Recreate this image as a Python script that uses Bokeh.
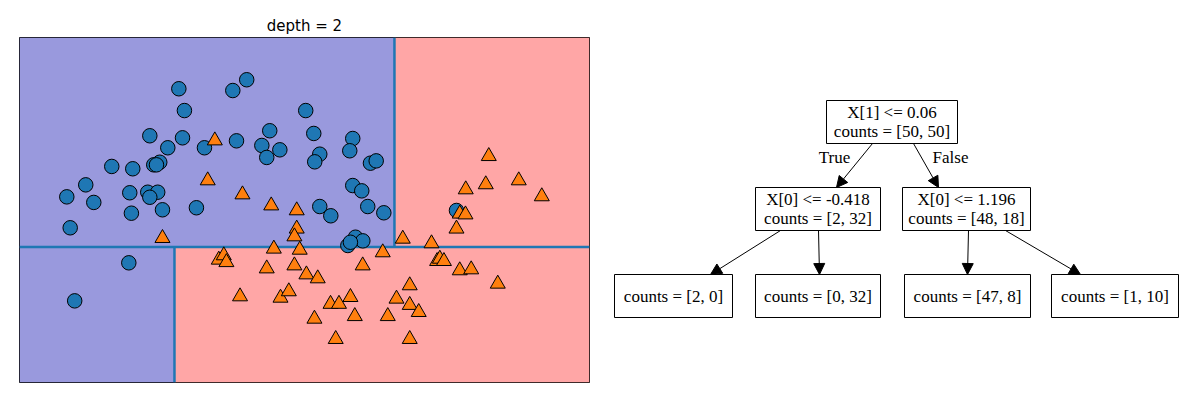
from bokeh.plotting import figure
from bokeh.layouts import row
from bokeh.models import Range1d, Arrow, NormalHead, Title, ColumnDataSource
from bokeh.core.properties import value
from bokeh.embed import file_html
from bokeh.resources import INLINE

# ---- data: two classes of points (feature 0, feature 1) ----
class0_x = [-0.386, 0.010, 0.112, -0.345, 0.545, -0.599, -0.359, -0.467, -0.198, 0.037,
            0.281, 0.223, 0.355, 0.259, 0.604, -0.878, -0.724, -0.570, -0.526, -0.550,
            -1.208, -1.069, -1.010, -0.746, -0.614, -0.541, -0.599, -0.734, -0.506, -0.257,
            -1.183, -0.753, -1.150, 0.890, 0.868, 0.648, 0.611, 1.020, 1.062, 0.890,
            0.956, 0.648, 0.729, 1.000, 1.118, 1.651, 0.910, 0.964, 0.854, 0.873]
class0_y = [1.221, 1.208, 1.287, 1.061, 1.061, 0.876, 0.861, 0.788, 0.788, 0.839,
            0.913, 0.805, 0.773, 0.717, 0.893, 0.651, 0.634, 0.663, 0.682, 0.663,
            0.428, 0.516, 0.387, 0.458, 0.462, 0.462, 0.425, 0.308, 0.333, 0.348,
            0.201, -0.056, -0.335, 0.856, 0.766, 0.741, 0.685, 0.675, 0.692, 0.511,
            0.472, 0.357, 0.289, 0.357, 0.311, 0.328, 0.132, 0.105, 0.071, 0.095]
class1_x = [-0.122, -0.174, 0.081, 0.292, 0.479, 0.479, 0.462, -0.506, 1.888, 1.866,
            2.108, 1.719, 2.277, 1.675, 1.717, 1.651, 1.257, 1.468, 0.311, 0.501,
            1.110, -0.093, -0.056, -0.037, 0.259, 0.462, 0.550, 0.633, 0.963, 1.509,
            1.529, 1.559, 1.675, 1.759, 1.954, 1.308, 1.211, 0.873, 0.727, 0.789,
            1.308, 1.374, 0.609, 0.905, 1.147, 0.765, 1.308, 0.063, 0.360, 0.421]
class1_y = [0.841, 0.548, 0.445, 0.364, 0.328, 0.194, 0.137, 0.125, 0.726, 0.519,
            0.548, 0.482, 0.431, 0.304, 0.298, 0.194, 0.120, 0.086, 0.047, 0.039,
            0.020, -0.034, -0.002, -0.052, -0.098, -0.076, -0.142, -0.171, -0.076, -0.044,
            -0.027, -0.044, -0.112, -0.105, -0.210, -0.222, -0.320, -0.308, -0.358, -0.358,
            -0.366, -0.418, -0.467, -0.448, -0.448, -0.616, -0.616, -0.303, -0.313, -0.266]

# ---- tree splits ----
root_threshold = 0.06      # X[1] <= 0.06
left_threshold = -0.418    # X[0] <= -0.418
right_threshold = 1.196    # X[0] <= 1.196
x_lim = [-1.555, 2.627]
y_lim = [-0.934, 1.597]

node_texts = ["X[1] <= 0.06\ncounts = [50, 50]",
              "X[0] <= -0.418\ncounts = [2, 32]",
              "X[0] <= 1.196\ncounts = [48, 18]",
              "counts = [2, 0]", "counts = [0, 32]",
              "counts = [47, 8]", "counts = [1, 10]"]
edge_labels = ["True", "False"]

BLUE_BG = "#9999dd"
RED_BG = "#ffa6a6"
LINE = "#1f77b4"

# ================= left: decision boundary =================
p = figure(width=600, height=392, x_range=Range1d(*x_lim), y_range=Range1d(*y_lim),
           output_backend="svg", toolbar_location=None,
           x_axis_location=None, y_axis_location=None,
           min_border_left=19, min_border_right=11, min_border_top=37, min_border_bottom=10)
p.title = Title(text="depth = 2", align="center", text_font="DejaVu Sans",
                text_font_size="15px", text_font_style="normal", text_color="#000000",
                standoff=5)
p.grid.visible = False
p.outline_line_color = "black"
p.outline_line_width = 1
p.background_fill_color = "white"
p.border_fill_color = "white"

regions = ColumnDataSource(dict(
    left=[x_lim[0], x_lim[0], right_threshold, left_threshold],
    right=[left_threshold, right_threshold, x_lim[1], x_lim[1]],
    bottom=[y_lim[0], root_threshold, root_threshold, y_lim[0]],
    top=[root_threshold, y_lim[1], y_lim[1], root_threshold],
    color=[BLUE_BG, BLUE_BG, RED_BG, RED_BG]))
p.quad(left="left", right="right", bottom="bottom", top="top", source=regions,
       fill_color="color", line_color=None)

p.segment(x0=[x_lim[0], left_threshold, right_threshold],
          y0=[root_threshold, y_lim[0], root_threshold],
          x1=[x_lim[1], left_threshold, right_threshold],
          y1=[root_threshold, root_threshold, y_lim[1]],
          line_color=LINE, line_width=2.5)

p.scatter(class0_x, class0_y, marker="circle", size=14.5, fill_color=LINE,
          line_color="black", line_width=1)
p.scatter(class1_x, class1_y, marker="triangle", size=15, fill_color="#ff7f0e",
          line_color="black", line_width=1)

# ================= right: tree diagram (page-pixel coordinates) =================
t = figure(width=600, height=392, x_range=Range1d(600, 1200), y_range=Range1d(382, 37),
           output_backend="svg", toolbar_location=None,
           x_axis_location=None, y_axis_location=None,
           min_border_left=0, min_border_right=0, min_border_top=37, min_border_bottom=10)
t.grid.visible = False
t.outline_line_color = None

box_l = [826, 755, 902, 614, 755, 904, 1051]
box_r = [957, 880, 1030, 732, 880, 1030, 1178]
box_t = [100, 187, 187, 274, 274, 274, 274]
box_b = [143, 230, 230, 317, 317, 317, 317]
t.quad(left=box_l, right=box_r, top=box_t, bottom=box_b,
       fill_color="white", line_color="black", line_width=1)
cx = [(a + b) / 2 for a, b in zip(box_l, box_r)]
cy = [(a + b) / 2 for a, b in zip(box_t, box_b)]
t.text(x=cx, y=cy, text=node_texts, text_align="center", text_baseline="middle",
       text_font=value("Liberation Serif"), text_font_size="17px", text_color="black",
       text_line_height=0.95)

edges = [(872, 143, 836, 187), (913, 143, 938, 187),
         (780, 230, 710, 274), (818, 230, 819, 274),
         (968, 230, 967, 274), (1005, 230, 1080, 274)]
for x0, y0, x1, y1 in edges:
    t.add_layout(Arrow(end=NormalHead(size=11, fill_color="black", line_color="black"),
                       x_start=x0, y_start=y0, x_end=x1, y_end=y1,
                       line_color="black", line_width=1))
t.text(x=[834, 950], y=[157, 157], text=edge_labels, text_align="center",
       text_baseline="middle", text_font=value("Liberation Serif"),
       text_font_size="17px", text_color="black")

layout = row(p, t, spacing=0)
open("out.html", "w").write(file_html(layout, INLINE))
